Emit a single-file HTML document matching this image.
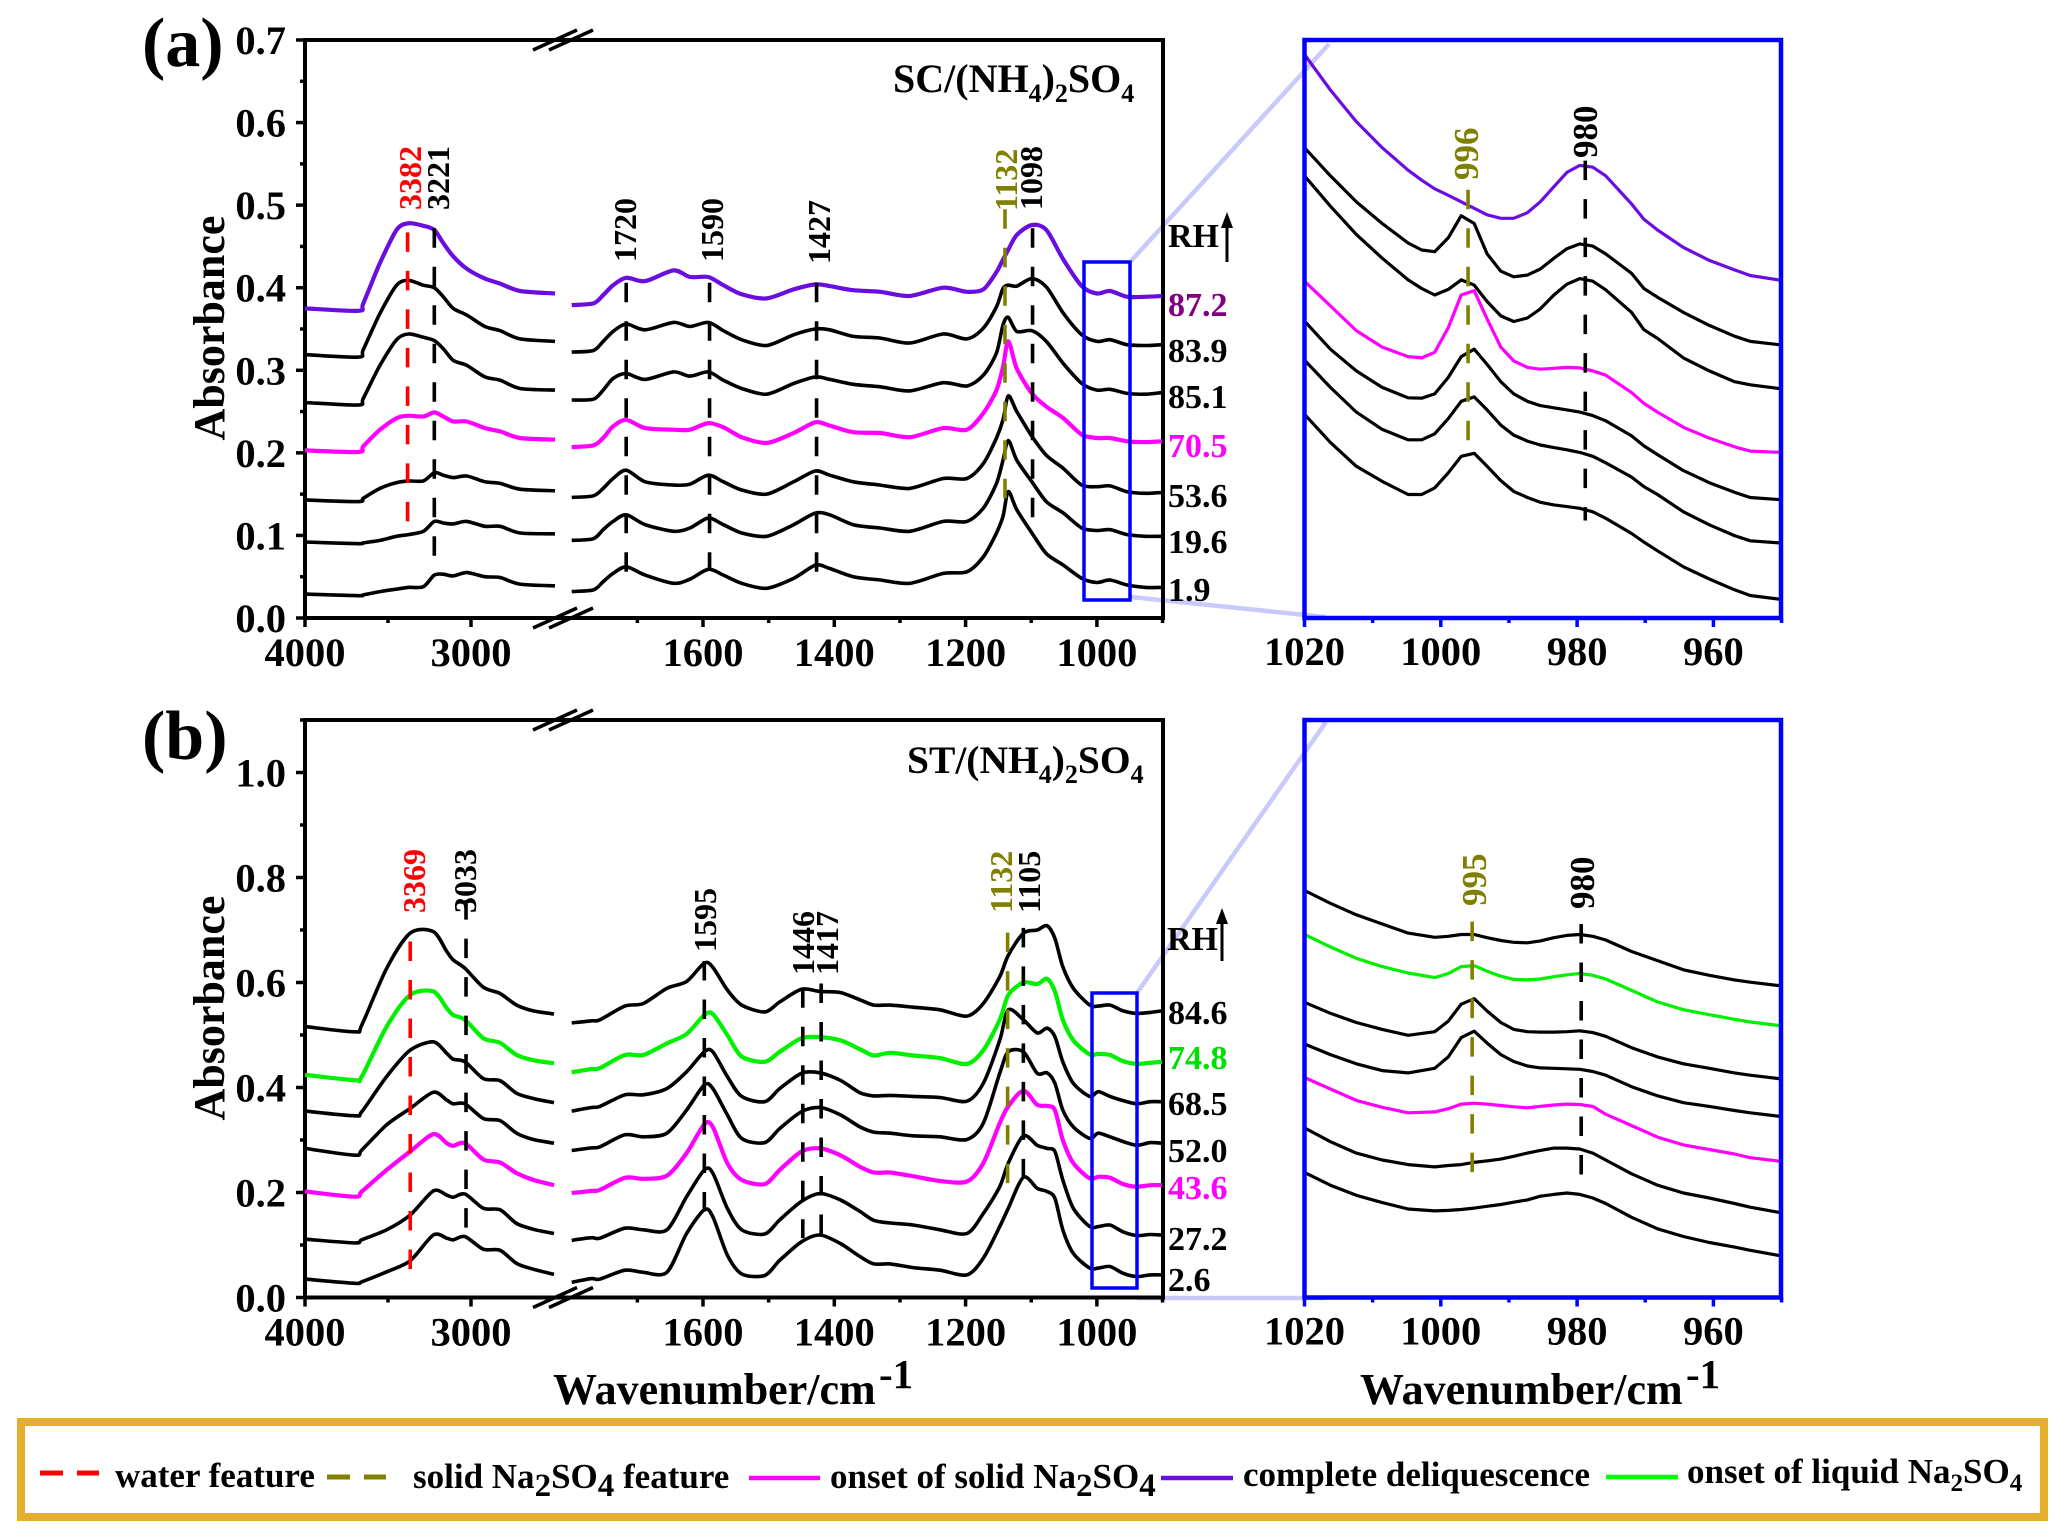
<!DOCTYPE html>
<html lang="en">
<head>
<meta charset="utf-8">
<title>FTIR spectra of SC and ST with ammonium sulfate</title>
<style>
html,body{margin:0;padding:0;background:#fff;}
svg{display:block;}
text{font-family:"Liberation Serif",serif;font-weight:bold;fill:#000;}
</style>
</head>
<body>
<svg id="figure" xmlns="http://www.w3.org/2000/svg" width="2067" height="1539" viewBox="0 0 2067 1539">
<rect width="2067" height="1539" fill="#fff"/>
<g id="layer"></g>

<g>
<text x="142" y="66" font-size="70">(a)</text>
<text x="142" y="759" font-size="70">(b)</text>
<text transform="translate(224,328) rotate(-90)" text-anchor="middle" font-size="44">Absorbance</text>
<text transform="translate(224,1008) rotate(-90)" text-anchor="middle" font-size="44">Absorbance</text>
<text x="893" y="92" font-size="40">SC/(NH<tspan font-size="26" dy="10">4</tspan><tspan dy="-10">)</tspan><tspan font-size="26" dy="10">2</tspan><tspan dy="-10">SO</tspan><tspan font-size="26" dy="10">4</tspan></text>
<text x="907" y="773" font-size="39.5">ST/(NH<tspan font-size="26" dy="10">4</tspan><tspan dy="-10">)</tspan><tspan font-size="26" dy="10">2</tspan><tspan dy="-10">SO</tspan><tspan font-size="26" dy="10">4</tspan></text>
<text x="553" y="1404" font-size="44">Wavenumber/cm</text>
<text x="879" y="1388" font-size="41">-1</text>
<text x="1360" y="1404" font-size="44">Wavenumber/cm</text>
<text x="1686" y="1388" font-size="41">-1</text>
</g>

<g font-size="32">
<text transform="translate(421,210) rotate(-90)" style="fill:#ff0000">3382</text>
<text transform="translate(449,210) rotate(-90)">3221</text>
<text transform="translate(636,262) rotate(-90)">1720</text>
<text transform="translate(723,262) rotate(-90)">1590</text>
<text transform="translate(830,264) rotate(-90)">1427</text>
<text transform="translate(1017,211) rotate(-90)" style="fill:#808000">1132</text>
<text transform="translate(1042,210) rotate(-90)">1098</text>
<text transform="translate(1478,180) rotate(-90)" font-size="35" style="fill:#808000">996</text>
<text transform="translate(1597,158) rotate(-90)" font-size="35">980</text>
</g>
<g font-size="32">
<text transform="translate(425,913) rotate(-90)" style="fill:#ff0000">3369</text>
<text transform="translate(476,913) rotate(-90)">3033</text>
<text transform="translate(716,952) rotate(-90)">1595</text>
<text transform="translate(814,975) rotate(-90)">1446</text>
<text transform="translate(838,975) rotate(-90)">1417</text>
<text transform="translate(1012,913) rotate(-90)" style="fill:#808000">1132</text>
<text transform="translate(1040,913) rotate(-90)">1105</text>
<text transform="translate(1486,906) rotate(-90)" font-size="35" style="fill:#808000">995</text>
<text transform="translate(1594,909) rotate(-90)" font-size="35">980</text>
</g>

<g font-size="34">
<text x="1168" y="247" font-size="34">RH</text>
<line x1="1227" y1="224" x2="1227" y2="262" stroke="#000" stroke-width="3"/>
<polygon points="1227,212 1221,228 1233,228" fill="#000"/>
<text x="1168" y="316" style="fill:#800080">87.2</text>
<text x="1168" y="362">83.9</text>
<text x="1168" y="408">85.1</text>
<text x="1168" y="457" style="fill:#ff00ff">70.5</text>
<text x="1168" y="507">53.6</text>
<text x="1168" y="553">19.6</text>
<text x="1168" y="601">1.9</text>
</g>
<g font-size="34">
<text x="1167" y="950" font-size="34">RH</text>
<line x1="1222" y1="922" x2="1222" y2="961" stroke="#000" stroke-width="3"/>
<polygon points="1222,908 1216,924 1228,924" fill="#000"/>
<text x="1168" y="1024">84.6</text>
<text x="1168" y="1069" style="fill:#00e000">74.8</text>
<text x="1168" y="1115">68.5</text>
<text x="1168" y="1162">52.0</text>
<text x="1168" y="1199" style="fill:#ff00ff">43.6</text>
<text x="1168" y="1250">27.2</text>
<text x="1168" y="1291">2.6</text>
</g>

<g>
<rect x="21" y="1422" width="2023" height="95" fill="#fff" stroke="#e5ae2c" stroke-width="8"/>
<line x1="40" y1="1473" x2="99" y2="1473" stroke="#ff0000" stroke-width="5" stroke-dasharray="23 14"/>
<text x="115" y="1487" font-size="35">water feature</text>
<line x1="327" y1="1477" x2="386" y2="1477" stroke="#808000" stroke-width="5" stroke-dasharray="23 14"/>
<text x="413" y="1488" font-size="35">solid Na<tspan font-size="33" dy="8">2</tspan><tspan dy="-8">SO</tspan><tspan font-size="33" dy="8">4</tspan><tspan dy="-8"> feature</tspan></text>
<line x1="749" y1="1478" x2="820" y2="1478" stroke="#ff00ff" stroke-width="4.5"/>
<text x="830" y="1488" font-size="35">onset of solid Na<tspan font-size="33" dy="8">2</tspan><tspan dy="-8">SO</tspan><tspan font-size="33" dy="8">4</tspan></text>
<line x1="1161" y1="1478" x2="1233" y2="1478" stroke="#6a0ee0" stroke-width="4.5"/>
<text x="1243" y="1486" font-size="35">complete deliquescence</text>
<line x1="1606" y1="1477" x2="1678" y2="1477" stroke="#00ff00" stroke-width="4.5"/>
<text x="1687" y="1483" font-size="35">onset of liquid Na<tspan font-size="25" dy="8">2</tspan><tspan dy="-8">SO</tspan><tspan font-size="25" dy="8">4</tspan></text>
</g>
</svg>

<script>
// ---------- Panel (a) wavenumber grids ----------
const aLeftWn=[4000,3679,3649,3548,3448,3378,3287,3221,3167,3107,3026,2916,2825,2705,2494];
const aRightWn=[1800,1767,1752,1737,1717,1688,1645,1620,1592,1569,1541,1503,1462,1429,1407,1371,1330,1285,1234,1198,1173,1153,1143,1135,1122,1099,1077,1051,1023,1000,980,954,926,901];
const aInsetWn=[1020,1016.2,1012.4,1008.6,1004.8,1002.8,1000.9,998.9,997,995.1,993.2,991.2,989.3,987.3,985.4,983.4,981.5,979.6,977.7,975.8,972,970.2,968.2,964.4,960.6,956.9,954.6,950.1];
// ---------- Panel (a) absorbance ----------
const aLeft872=[.375,.372,.381,.430,.470,.478,.475,.470,.454,.438,.423,.411,.405,.396,.393];
const aRight872=[.379,.381,.391,.403,.412,.408,.421,.413,.413,.403,.392,.387,.398,.404,.402,.397,.395,.390,.400,.395,.398,.419,.434,.446,.464,.476,.470,.434,.402,.393,.396,.389,.389,.390];
const aLeft839=[.319,.316,.325,.369,.403,.409,.403,.400,.389,.375,.367,.353,.348,.338,.335];
const aRight839=[.322,.324,.335,.347,.356,.349,.358,.353,.358,.348,.337,.330,.343,.350,.349,.341,.339,.333,.344,.338,.351,.377,.399,.403,.402,.411,.401,.369,.343,.335,.337,.331,.330,.331];
const aLeft851=[.261,.258,.266,.306,.337,.344,.340,.336,.326,.312,.306,.292,.288,.278,.276];
const aRight851=[.264,.265,.276,.290,.296,.289,.298,.293,.298,.288,.278,.271,.284,.292,.289,.283,.280,.275,.285,.281,.294,.321,.355,.364,.347,.348,.335,.308,.284,.276,.277,.272,.271,.273];
const aLeft705=[.203,.201,.208,.228,.242,.245,.244,.249,.244,.238,.238,.230,.226,.218,.216];
const aRight705=[.207,.209,.218,.232,.240,.230,.228,.228,.236,.231,.219,.212,.224,.237,.233,.225,.224,.219,.230,.228,.248,.276,.304,.335,.302,.272,.256,.242,.222,.218,.218,.214,.213,.214];
const aLeft536=[.143,.141,.145,.157,.164,.166,.166,.176,.173,.170,.172,.165,.163,.156,.154];
const aRight536=[.146,.148,.157,.169,.179,.165,.161,.162,.173,.165,.155,.150,.165,.178,.173,.165,.161,.157,.169,.169,.187,.218,.240,.269,.250,.220,.197,.181,.161,.159,.160,.153,.151,.152];
const aLeft196=[.092,.090,.091,.094,.099,.101,.105,.117,.115,.114,.117,.111,.111,.103,.102];
const aRight196=[.094,.096,.107,.117,.125,.113,.105,.109,.121,.113,.103,.099,.113,.127,.125,.113,.109,.105,.117,.117,.133,.163,.191,.215,.191,.165,.141,.127,.109,.106,.107,.101,.099,.099];
const aLeft19=[.029,.027,.028,.032,.035,.037,.038,.052,.053,.051,.055,.050,.049,.041,.039];
const aRight19=[.032,.034,.044,.054,.062,.052,.042,.047,.059,.052,.042,.036,.048,.064,.060,.050,.046,.042,.054,.056,.074,.103,.123,.153,.131,.103,.078,.064,.048,.043,.046,.040,.037,.037];
// ---------- Panel (a) inset, milli-absorbance on a relative scale ----------
const aInset872=[390,365.4,343.5,325.5,309.9,303,297,292.5,288,283.5,279,276.6,276.6,280.5,288,298.5,308.4,313.2,312,306,286.5,276,268.5,256.5,247.5,240.9,237,233.7];
const aInset839=[325.5,306,288,273,259.5,254.7,253.5,263.1,278.4,273,252,240,236.1,237.3,241.5,249,255.6,258.9,257.4,252,238.5,228,222,211.5,202.5,195,191.4,189];
const aInset851=[306,285,265.5,249,234,228,223.5,227.4,234,230.4,219,209.1,205.2,207.6,213.9,223.5,231,234.9,233.1,227.1,211.5,199.5,193.5,180,171,163.5,161.4,158.7];
const aInset705=[233.1,216,198.9,187.5,180.9,180,183.9,201,223.5,226.5,207,187.5,177.9,173.4,172.2,172.8,173.4,173.1,171,168,156,148.5,142.5,132,124.5,118.5,115.5,114.6];
const aInset536=[205.5,186,171,159.6,152.4,152.1,155.1,166.5,180.9,186,175.5,163.5,155.1,150,147,145.5,144,142.5,140.1,136.5,126,119.1,113.1,102,93.6,87,83.4,81.9];
const aInset196=[178.5,159.6,142.5,130.5,123.3,123.3,127.5,138,150,153,144,133.5,126.6,122.4,119.7,117.9,116.4,114.6,111.9,107.4,97.5,90.9,85.5,73.5,64.5,57,53.4,51.9];
const aInset19=[141,121.5,105,94.5,85.5,85.5,90,100.5,111.9,114,105,95.1,87.6,83.4,80.1,78.3,77.1,75.9,73.5,69,58.5,52.5,46.5,35.4,27,19.5,15.6,12.9];
// ---------- Panel (b) wavenumber grids ----------
const bLeftWn=[4000,3699,3658,3508,3367,3227,3146,3107,3036,2926,2825,2725,2625,2500];
const bRightWn=[1800,1770,1757,1719,1691,1655,1625,1598,1585,1563,1541,1506,1483,1450,1422,1391,1361,1340,1315,1280,1239,1198,1173,1148,1135,1112,1091,1076,1064,1052,1036,1011,998,980,960,939,919,901];
const bInsetWn=[1020,1016.2,1012.4,1008.6,1004.8,1000.9,998.9,997,995.1,993.2,991.2,989.3,987.3,985.4,983.4,981.5,979.6,977.7,975.8,972,968.2,964.4,960.6,956.9,954.6,950.1];
// ---------- Panel (b) absorbance ----------
const bLeft846=[.516,.506,.519,.627,.694,.697,.659,.643,.627,.591,.579,.557,.546,.540];
const bRight846=[.523,.527,.529,.555,.560,.589,.602,.637,.629,.586,.557,.544,.563,.587,.583,.581,.567,.557,.557,.553,.548,.536,.560,.611,.652,.694,.700,.708,.684,.630,.589,.557,.555,.557,.546,.541,.543,.546];
const bLeft748=[.424,.414,.421,.516,.576,.583,.551,.538,.529,.494,.485,.462,.452,.446];
const bRight748=[.429,.435,.437,.462,.462,.484,.502,.538,.540,.500,.459,.449,.468,.494,.496,.490,.473,.461,.466,.461,.456,.445,.471,.529,.576,.600,.597,.607,.583,.529,.490,.463,.464,.462,.450,.445,.447,.449];
const bLeft685=[.355,.346,.354,.421,.471,.487,.465,.454,.449,.417,.413,.389,.379,.371];
const bRight685=[.355,.362,.364,.386,.386,.398,.430,.468,.468,.421,.383,.373,.398,.427,.428,.414,.390,.384,.385,.383,.381,.374,.408,.490,.548,.529,.504,.513,.497,.449,.408,.383,.392,.383,.375,.369,.373,.373];
const bLeft520=[.284,.271,.281,.329,.360,.391,.376,.369,.369,.341,.337,.313,.301,.294];
const bRight520=[.280,.285,.287,.310,.306,.313,.357,.405,.398,.348,.303,.295,.322,.354,.362,.348,.325,.315,.313,.308,.306,.301,.332,.427,.468,.468,.427,.428,.408,.357,.325,.303,.313,.306,.297,.290,.295,.294];
const bLeft436=[.202,.192,.202,.243,.278,.311,.294,.289,.294,.263,.257,.237,.224,.214];
const bRight436=[.199,.203,.205,.228,.226,.232,.275,.330,.325,.256,.224,.216,.243,.278,.284,.271,.249,.238,.238,.231,.222,.221,.256,.332,.364,.394,.367,.365,.357,.300,.256,.227,.230,.228,.216,.211,.214,.214];
const bLeft272=[.111,.104,.110,.129,.157,.203,.195,.191,.197,.170,.167,.141,.130,.122];
const bRight272=[.109,.114,.113,.132,.129,.129,.192,.243,.237,.170,.129,.121,.148,.183,.198,.186,.164,.147,.142,.138,.129,.122,.160,.211,.256,.308,.290,.284,.278,.224,.170,.135,.135,.138,.125,.118,.120,.119];
const bLeft26=[.035,.027,.030,.049,.070,.119,.113,.110,.116,.092,.090,.065,.054,.044];
const bRight26=[.029,.036,.035,.052,.048,.048,.122,.167,.154,.081,.045,.042,.071,.106,.119,.103,.078,.064,.064,.057,.052,.043,.075,.135,.170,.229,.208,.202,.189,.129,.084,.056,.056,.059,.046,.040,.043,.043];
// ---------- Panel (b) inset, milli-absorbance on a relative scale ----------
const bInset846=[266.4,258,250.5,244.5,238.5,235.8,236.4,237.6,237.6,235.5,233.7,232.5,232.2,233.4,235.5,237,237.6,236.4,234,226.5,220.5,214.5,210.9,207.9,206.4,204];
const bInset748=[237.6,229.5,222,216.6,212.4,209.4,212.1,216.6,217.2,213.6,210.3,208.2,207.9,208.5,210,211.2,212.1,210.9,208.5,201,193.5,188.4,185.1,182.1,180.3,177.9];
const bInset685=[193.2,186,180,175.5,171.6,174,180.9,192,195.6,187.5,180,175.5,174,173.7,173.7,174,174.6,173.4,171,163.5,157.5,153,150,147,145.5,143.1];
const bInset520=[165.9,159,153,148.5,147,150,157.5,170.1,174.3,166.5,159,154.5,151.5,150.3,150,149.7,149.4,147.9,145.5,138,132,127.5,125.1,122.4,120.9,118.5];
const bInset436=[144,136.5,129,124.5,120.9,121.5,123.6,126.6,127.2,126.6,125.7,124.8,124.2,125.1,126,126.6,126.3,125.1,120,112.5,105,99.9,96.9,93.9,91.5,89.1];
const bInset272=[111,102,94.5,90,87,85.5,86.4,87,88.5,89.4,90.6,92.4,94.5,96.3,97.8,97.8,97.2,94.5,90,81,73.5,68.4,65.1,61.5,59.1,55.5];
const bInset26=[81.9,73.5,66.9,62.1,57.9,56.7,57,57.6,58.5,59.7,60.9,62.4,63.9,66.3,67.5,68.4,67.5,65.1,61.5,52.5,45,39.9,36,33,30.9,27.3];
// ---------- Series names ----------
const aSeriesNames=['87.2','83.9','85.1','70.5','53.6','19.6','1.9'];
const bSeriesNames=['84.6','74.8','68.5','52.0','43.6','27.2','2.6'];
// ---------- Peak markers ----------
const aPeakWn=[3382,3221,1717,1590,1427,1140,1098];
const aPeakTop=[.467,.472,.406,.406,.406,.495,.472];
const aPeakBottom=[.115,.074,.055,.058,.055,.144,.122];
const aPeakKind=['water','band','band','band','band','solid','band'];
const bPeakWn=[3366,3030,1598,1448,1420,1136,1112];
const bPeakTop=[.678,.757,.641,.589,.598,.695,.704];
const bPeakBottom=[.052,.132,.163,.113,.119,.216,.230];
const bPeakKind=['water','band','band','band','band','solid','band'];
const aInsetPeakWn=[996,978.8];
const aInsetPeakTop=[296.4,316.5];
const aInsetPeakBottom=[121.5,67.5];
const aInsetPeakKind=['solid','band'];
const bInsetPeakWn=[995.4,979.4];
const bInsetPeakTop=[246,244.5];
const bInsetPeakBottom=[81,79.5];
const bInsetPeakKind=['solid','band'];
// ---------- Ticks ----------
const aYMajor=[0,.1,.2,.3,.4,.5,.6,.7];
const aYMinor=[.05,.15,.25,.35,.45,.55,.65];
const bYMajor=[0,.2,.4,.6,.8,1.0];
const bYMinor=[.1,.3,.5,.7,.9,1.1];
const xLeftMajor=[4000,3000];
const xLeftMinor=[3500];
const xRightMajor=[1600,1400,1200,1000];
const xRightMinor=[1700,1500,1300,1100,900];
const insetMajor=[1020,1000,980,960];
const insetMinor=[1010,990,970,950];

const NS='http://www.w3.org/2000/svg';
const layer=document.getElementById('layer');
const kindColor={water:'#ff0000',solid:'#808000',band:'#000000'};

function add(tag,attrs,parent){
  const el=document.createElementNS(NS,tag);
  for(const k in attrs){el.setAttribute(k,attrs[k]);}
  (parent||layer).appendChild(el);
  return el;
}
function smooth(pts){
  let d='M'+pts[0][0].toFixed(1)+' '+pts[0][1].toFixed(1);
  const t=0.85;
  for(let i=0;i<pts.length-1;i++){
    const p0=pts[i-1]||pts[i],p1=pts[i],p2=pts[i+1],p3=pts[i+2]||p2;
    const c1x=p1[0]+(p2[0]-p0[0])/6*t,c1y=p1[1]+(p2[1]-p0[1])/6*t;
    const c2x=p2[0]-(p3[0]-p1[0])/6*t,c2y=p2[1]-(p3[1]-p1[1])/6*t;
    d+='C'+c1x.toFixed(1)+' '+c1y.toFixed(1)+' '+c2x.toFixed(1)+' '+c2y.toFixed(1)+' '+p2[0].toFixed(1)+' '+p2[1].toFixed(1);
  }
  return d;
}
function poly(pts){
  return 'M'+pts.map(function(p){return p[0].toFixed(1)+' '+p[1].toFixed(1);}).join('L');
}
function xMain(w){
  return w>2000 ? 305+(4000-w)*0.166 : 703+(1600-w)*0.6565;
}
function xInset(w){
  return 1304.5+(1020-w)*6.815;
}
function tick(x1,y1,x2,y2,name,color,parent){
  const el=add('line',{x1:x1,y1:y1,x2:x2,y2:y2,stroke:color,'stroke-width':3.5},parent);
  
  
}
function label(x,y,str,anchor,name,parent){
  const el=add('text',{x:x,y:y,'font-size':40.5,'text-anchor':anchor},parent);
  el.textContent=str;
  
  
}
function markers(wn,top,bottom,kind,xf,yf,prefix,g){
  wn.forEach(function(w,i){
    const el=add('line',{x1:xf(w),x2:xf(w),y1:yf(top[i]),y2:yf(bottom[i]),stroke:kindColor[kind[i]],'stroke-width':3.6,'stroke-dasharray':'19.5 19'},g);
    
    
  });
}

function panel(c){
  const g=add('g',{});
  
  
  const yMain=function(v){return c.bottom-(v/c.yMax)*(c.bottom-c.top);};
  const yIn=function(v){return c.bottom-(v/c.insetMax)*(c.bottom-c.top);};

  // zoom connectors
  c.connectors.forEach(function(k,i){
    const el=add('line',{x1:k[0],y1:k[1],x2:k[2],y2:k[3],stroke:'#c9c9fb','stroke-width':4.5},g);
    
    
  });

  // main frame
  const frame=add('rect',{x:305,y:c.top,width:858,height:c.bottom-c.top,fill:'none',stroke:'#000','stroke-width':4},g);
  
  

  // axis break marks
  [c.top,c.bottom].forEach(function(yy,i){
    [533,549].forEach(function(xx,j){
      const el=add('line',{x1:xx,y1:yy+10,x2:xx+44,y2:yy-10,stroke:'#000','stroke-width':3.5},g);
      
      
    });
  });

  // main ticks
  c.yMajor.forEach(function(v){
    tick(305,yMain(v),296,yMain(v),'y-tick-'+c.id,'#000',g);
    label(286,yMain(v)+14,v.toFixed(1),'end','y-tick-label-'+c.id,g);
  });
  c.yMinor.forEach(function(v){
    tick(305,yMain(v),300,yMain(v),'y-minor-tick-'+c.id,'#000',g);
  });
  xLeftMajor.concat(xRightMajor).forEach(function(w){
    tick(xMain(w),c.bottom,xMain(w),c.bottom+9,'x-tick-'+c.id,'#000',g);
    label(xMain(w),c.bottom+48,String(w),'middle','x-tick-label-'+c.id,g);
  });
  xLeftMinor.concat(xRightMinor).forEach(function(w){
    tick(xMain(w),c.bottom,xMain(w),c.bottom+5,'x-minor-tick-'+c.id,'#000',g);
  });

  // main spectra
  c.series.forEach(function(s){
    const width=s.color===black?3.6:4.2;
    const left=add('path',{d:smooth(c.leftWn.map(function(w,i){return [xMain(w),yMain(s.left[i])];})),fill:'none',stroke:s.color,'stroke-width':width,'stroke-linejoin':'round'},g);
    
    
    const right=add('path',{d:smooth(c.rightWn.map(function(w,i){return [xMain(w),yMain(s.right[i])];})),fill:'none',stroke:s.color,'stroke-width':width,'stroke-linejoin':'round'},g);
    
    
  });
  markers(c.peakWn,c.peakTop,c.peakBottom,c.peakKind,xMain,yMain,'main-'+c.id,g);

  // zoom box on main panel
  const zb=add('rect',{x:c.box[0],y:c.box[1],width:c.box[2]-c.box[0],height:c.box[3]-c.box[1],fill:'none',stroke:'#0000ff','stroke-width':3.5},g);
  
  

  // inset
  c.series.forEach(function(s){
    const p=add('path',{d:poly(c.insetWn.map(function(w,i){return [xInset(w),yIn(s.inset[i])];})),fill:'none',stroke:s.color,'stroke-width':3.2,'stroke-linejoin':'round'},g);
    
    
  });
  markers(c.insetPeakWn,c.insetPeakTop,c.insetPeakBottom,c.insetPeakKind,xInset,yIn,'inset-'+c.id,g);
  const inf=add('rect',{x:1304.5,y:c.top,width:476.5,height:c.bottom-c.top,fill:'none',stroke:'#0000ff','stroke-width':4.5},g);
  
  
  insetMajor.forEach(function(w){
    tick(xInset(w),c.bottom,xInset(w),c.bottom+9,'inset-x-tick-'+c.id,'#0000ff',g);
    label(xInset(w),c.bottom+47,String(w),'middle','inset-x-tick-label-'+c.id,g);
  });
  insetMinor.forEach(function(w){
    tick(xInset(w),c.bottom,xInset(w),c.bottom+5,'inset-x-minor-tick-'+c.id,'#0000ff',g);
  });
}

const purple='#6a0ee0',magenta='#ff00ff',green='#00f000',black='#000000';
panel({
  id:'a',top:40,bottom:618,yMax:.7,insetMax:400,yMajor:aYMajor,yMinor:aYMinor,
  leftWn:aLeftWn,rightWn:aRightWn,insetWn:aInsetWn,
  peakWn:aPeakWn,peakTop:aPeakTop,peakBottom:aPeakBottom,peakKind:aPeakKind,
  insetPeakWn:aInsetPeakWn,insetPeakTop:aInsetPeakTop,insetPeakBottom:aInsetPeakBottom,insetPeakKind:aInsetPeakKind,
  box:[1084,262,1130,600],
  connectors:[[1131,261,1329,44],[1131,597,1325,617]],
  series:[
    {name:aSeriesNames[0],color:purple,left:aLeft872,right:aRight872,inset:aInset872},
    {name:aSeriesNames[1],color:black,left:aLeft839,right:aRight839,inset:aInset839},
    {name:aSeriesNames[2],color:black,left:aLeft851,right:aRight851,inset:aInset851},
    {name:aSeriesNames[3],color:magenta,left:aLeft705,right:aRight705,inset:aInset705},
    {name:aSeriesNames[4],color:black,left:aLeft536,right:aRight536,inset:aInset536},
    {name:aSeriesNames[5],color:black,left:aLeft196,right:aRight196,inset:aInset196},
    {name:aSeriesNames[6],color:black,left:aLeft19,right:aRight19,inset:aInset19}
  ]
});
panel({
  id:'b',top:720,bottom:1297.5,yMax:1.1,insetMax:378,yMajor:bYMajor,yMinor:bYMinor,
  leftWn:bLeftWn,rightWn:bRightWn,insetWn:bInsetWn,
  peakWn:bPeakWn,peakTop:bPeakTop,peakBottom:bPeakBottom,peakKind:bPeakKind,
  insetPeakWn:bInsetPeakWn,insetPeakTop:bInsetPeakTop,insetPeakBottom:bInsetPeakBottom,insetPeakKind:bInsetPeakKind,
  box:[1092,993,1137,1288],
  connectors:[[1137,993,1326,722],[1137,1298,1325,1298]],
  series:[
    {name:bSeriesNames[0],color:black,left:bLeft846,right:bRight846,inset:bInset846},
    {name:bSeriesNames[1],color:green,left:bLeft748,right:bRight748,inset:bInset748},
    {name:bSeriesNames[2],color:black,left:bLeft685,right:bRight685,inset:bInset685},
    {name:bSeriesNames[3],color:black,left:bLeft520,right:bRight520,inset:bInset520},
    {name:bSeriesNames[4],color:magenta,left:bLeft436,right:bRight436,inset:bInset436},
    {name:bSeriesNames[5],color:black,left:bLeft272,right:bRight272,inset:bInset272},
    {name:bSeriesNames[6],color:black,left:bLeft26,right:bRight26,inset:bInset26}
  ]
});
</script>
</body>
</html>
